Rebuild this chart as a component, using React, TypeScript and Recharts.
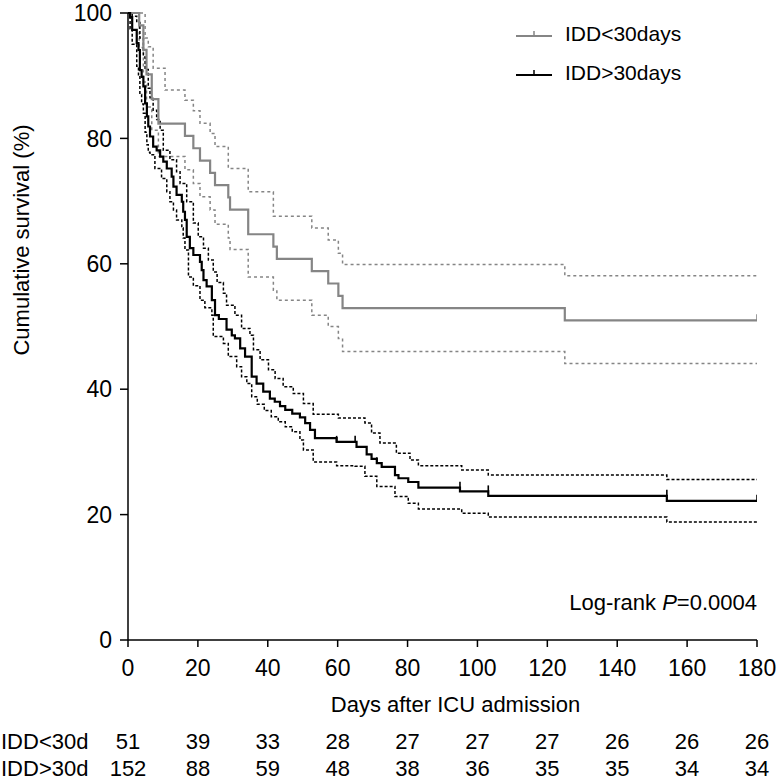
import React from 'react';
import { ComposedChart, Line, Scatter, XAxis, YAxis, Legend } from 'recharts';

// axis ticks
const dayTicks = [0, 20, 40, 60, 80, 100, 120, 140, 160, 180];
const pctTicks = [0, 20, 40, 60, 80, 100];

// numbers at risk (one per day tick)
const riskShortLabel = 'IDD<30d';
const riskLongLabel = 'IDD>30d';
const riskShort = [51, 39, 33, 28, 27, 27, 27, 26, 26, 26];
const riskLong = [152, 88, 59, 48, 38, 36, 35, 35, 34, 34];

// IDD<30days: [day, survival %]
const shortKM = [
  [0, 100], [3.2, 98.04], [4.4, 94.12], [5.3, 90.2], [6.8, 86.27], [8.7, 82.35], [16.3, 80.39],
  [18.7, 78.43], [20.6, 76.47], [23.5, 74.51], [24.9, 72.55], [28.7, 70.59], [29.2, 68.63],
  [34.4, 64.71], [41.6, 62.75], [42.6, 60.78], [52.6, 58.82], [57.3, 56.86], [60.2, 54.9],
  [61.4, 52.94], [125, 50.98], [180, 50.98],
];
const shortUpper = [
  [0, 100], [4.9, 96.0], [5.8, 94.6], [7.2, 91.2], [10.6, 87.7], [16.3, 86.1], [18.7, 84.4],
  [20.6, 82.4], [23.5, 80.8], [24.9, 78.7], [28.7, 75.2], [34.4, 71.5], [41.6, 67.6],
  [52.6, 65.7], [57.3, 63.8], [60.2, 61.7], [61.4, 59.9], [125, 58.1], [180, 58.1],
];
const shortLower = [
  [0, 100], [3.2, 94.5], [4.4, 89.0], [5.3, 85.0], [6.8, 81.3], [8.7, 77.1], [16.3, 75.0],
  [18.7, 72.8], [20.6, 70.7], [23.5, 68.6], [24.9, 66.3], [28.7, 64.1], [29.2, 62.3],
  [34.4, 57.9], [41.6, 55.8], [42.6, 54.2], [52.6, 51.8], [57.3, 50.0], [60.2, 48.1],
  [61.4, 46.0], [125, 44.1], [180, 44.1],
];
const shortCensor = [[180, 50.98]];

// IDD>30days: [day, survival %]
const longKM = [
  [0, 100], [0.6, 99.34], [1.2, 97.3], [2.5, 95.2], [3, 94.1], [3.4, 90.9], [3.9, 89.8],
  [4.4, 88.3], [4.9, 85.6], [5.4, 83.5], [5.8, 81.9], [6.3, 80.3], [7.2, 78.7], [8.2, 78.1],
  [9.2, 77.1], [10.1, 76.3], [11.1, 75.2], [12.5, 73.9], [13, 72.3], [13.9, 71.0], [15.4, 69.9],
  [15.8, 68.3], [16.3, 67.0], [16.8, 64.3], [17.7, 62.5], [18.7, 61.4], [20.6, 60.3],
  [21.1, 59.0], [21.6, 57.4], [22.5, 56.4], [24, 54.2], [24.9, 51.8], [26, 51.2], [28.2, 49.5],
  [29.7, 48.6], [30.6, 48.1], [32.1, 46.5], [33.5, 45.2], [35.4, 42.0], [36.8, 40.9],
  [38.7, 39.6], [40.6, 38.5], [42, 38.0], [43.5, 37.3], [45, 36.7], [47, 36.1], [49.2, 35.5],
  [50.7, 34.6], [52.1, 33.5], [53.5, 32.2], [59.7, 31.6], [65.4, 30.8], [68.3, 29.6],
  [69.7, 28.9], [71.2, 28.2], [72.6, 27.6], [76.4, 26.3], [77.4, 25.8], [80.2, 25.2],
  [83.1, 24.3], [95, 23.7], [103.1, 23.0], [154.2, 22.2], [180, 22.2],
];
const longUpper = [
  [0, 100], [1.2, 99.5], [2.5, 98.5], [3.4, 96.0], [4.4, 93.0], [4.9, 91.0], [5.8, 88.0],
  [6.3, 86.5], [7.2, 84.5], [8.2, 83.0], [9.2, 81.3], [10.1, 78.1], [12, 76.6], [13.9, 74.7],
  [14.9, 72.8], [16.8, 69.9], [18.7, 66.5], [20.1, 64.3], [21.6, 62.5], [23, 60.6],
  [24.4, 58.7], [25.5, 57.0], [27.3, 55.3], [28.2, 53.4], [30.6, 51.8], [32.5, 49.7],
  [34.9, 48.6], [35.9, 46.3], [37.8, 44.7], [40.2, 43.1], [42.1, 41.7], [44.4, 40.4],
  [47.3, 39.3], [50.2, 37.7], [53, 36.0], [60.2, 35.4], [67.8, 34.6], [69.7, 33.0],
  [72.1, 31.4], [76.8, 29.8], [80.7, 28.7], [83.1, 27.8], [95.5, 27.1], [103.1, 26.3],
  [154.2, 25.6], [180, 25.6],
];
const longLower = [
  [0, 100], [0.6, 97.5], [1.2, 95.0], [2.5, 91.5], [3, 90.0], [3.4, 87.0], [3.9, 85.5],
  [4.4, 84.0], [4.9, 81.0], [5.4, 79.0], [5.8, 77.8], [6.3, 77.4], [7.7, 75.2], [9.6, 73.6],
  [11.1, 71.5], [12, 69.9], [13, 68.6], [13.9, 67.0], [15.4, 65.7], [15.8, 64.1], [16.3, 62.2],
  [17.3, 57.9], [18.7, 56.5], [20.6, 54.2], [22, 53.0], [24, 51.8], [24.4, 48.4], [27.3, 47.3],
  [28.7, 45.2], [31.1, 43.6], [32.5, 42.0], [34, 40.9], [35.4, 38.8], [37, 37.6], [39, 36.6],
  [41, 35.6], [43, 34.8], [45, 34.0], [47, 33.2], [49.2, 31.9], [50.2, 30.3], [53, 28.4],
  [59.7, 27.8], [65, 27.7], [67.8, 26.1], [71.2, 24.5], [76.4, 22.9], [80.2, 21.8],
  [83.1, 20.9], [95.5, 20.2], [103.1, 19.6], [154.2, 18.8], [180, 18.8],
];
const longCensor = [
  [59.7, 31.6], [65, 31.6], [71.2, 28.2], [95, 24.3], [103.1, 23.7], [154.2, 23.0], [180, 22.2],
];

const toRows = (pairs: number[][]) => pairs.map(([t, s]) => ({ t, s }));

const GREY = '#858585';
const FONT = '"Liberation Sans", Arial, sans-serif';

const CensorMark = (color: string) => (props: any) => {
  const { cx, cy } = props;
  if (cx == null || cy == null) return null;
  return <line x1={cx} x2={cx} y1={cy} y2={cy - 6} stroke={color} strokeWidth={1.6} />;
};

// x tick label plus the at-risk numbers under it
const DayTick = (props: any) => {
  const { x, y, payload, index } = props;
  return (
    <g fontFamily={FONT} fill="#000" textAnchor="middle">
      <text x={x} y={y + 29} fontSize={23} fill="#000">{payload.value}</text>
      <text x={x} y={y + 102} fontSize={22} fill="#000">{riskShort[index]}</text>
      <text x={x} y={y + 129} fontSize={22} fill="#000">{riskLong[index]}</text>
    </g>
  );
};

const DayTitle = (props: any) => {
  const { viewBox } = props;
  const { x, y, width } = viewBox;
  return (
    <g fontFamily={FONT} fontSize={22} fill="#000">
      <text x={x + width / 2 + 13} y={y + 72} textAnchor="middle">Days after ICU admission</text>
      <text x={1} y={y + 109}>{riskShortLabel}</text>
      <text x={1} y={y + 136}>{riskLongLabel}</text>
    </g>
  );
};

const SurvTitle = () => (
  <text
    x={29}
    y={240}
    transform="rotate(-90, 29, 240)"
    textAnchor="middle"
    fontFamily={FONT}
    fontSize={22}
    fill="#000"
  >
    Cumulative survival (%)
  </text>
);

const legendItems = [
  { name: 'IDD<30days', color: GREY },
  { name: 'IDD>30days', color: '#000' },
];

const KMLegend = () => (
  <div style={{ fontFamily: FONT, fontSize: 21, color: '#000' }}>
    {legendItems.map((it) => (
      <div key={it.name} style={{ display: 'flex', alignItems: 'center', height: 39 }}>
        <svg width={51} height={20}>
          <line x1={2} x2={38} y1={12} y2={12} stroke={it.color} strokeWidth={2} />
          <line x1={20} x2={20} y1={12} y2={7} stroke={it.color} strokeWidth={1.5} />
        </svg>
        <span>{it.name}</span>
      </div>
    ))}
  </div>
);

export default function App() {
  return (
    <div style={{ position: 'absolute', left: 0, top: 0, width: 777, height: 782, background: '#fff' }}>
      <ComposedChart
        width={777}
        height={782}
        margin={{ top: 13, right: 20, left: 0, bottom: 62 }}
      >
        <XAxis
          dataKey="t"
          type="number"
          domain={[0, 180]}
          ticks={dayTicks}
          interval={0}
          allowDataOverflow
          height={80}
          tickSize={7}
          tickMargin={0}
          stroke="#000"
          strokeWidth={1.5}
          tick={<DayTick />}
          label={<DayTitle />}
        />
        <YAxis
          dataKey="s"
          type="number"
          domain={[0, 100]}
          ticks={pctTicks}
          interval={0}
          width={128}
          tickSize={8}
          tickMargin={8}
          stroke="#000"
          strokeWidth={1.5}
          tick={{ fill: '#000', fontSize: 23, fontFamily: FONT }}
          label={<SurvTitle />}
        />
        <Legend
          layout="horizontal"
          verticalAlign="middle"
          align="center"
          wrapperStyle={{ top: 14, left: 514, width: 200, height: 80 }}
          content={<KMLegend />}
        />

        <Line data={toRows(shortUpper)} dataKey="s" type="stepAfter" stroke={GREY} strokeWidth={1.5} strokeDasharray="3 3" dot={false} isAnimationActive={false} legendType="none" />
        <Line data={toRows(shortLower)} dataKey="s" type="stepAfter" stroke={GREY} strokeWidth={1.5} strokeDasharray="3 3" dot={false} isAnimationActive={false} legendType="none" />
        <Line data={toRows(longUpper)} dataKey="s" type="stepAfter" stroke="#000" strokeWidth={1.5} strokeDasharray="3 2" dot={false} isAnimationActive={false} legendType="none" />
        <Line data={toRows(longLower)} dataKey="s" type="stepAfter" stroke="#000" strokeWidth={1.5} strokeDasharray="3 2" dot={false} isAnimationActive={false} legendType="none" />
        <Line data={toRows(shortKM)} dataKey="s" type="stepAfter" stroke={GREY} strokeWidth={2.2} dot={false} isAnimationActive={false} name="IDD<30days" />
        <Line data={toRows(longKM)} dataKey="s" type="stepAfter" stroke="#000" strokeWidth={2.2} dot={false} isAnimationActive={false} name="IDD>30days" />
        <Scatter data={toRows(shortCensor)} dataKey="s" shape={CensorMark(GREY)} isAnimationActive={false} legendType="none" />
        <Scatter data={toRows(longCensor)} dataKey="s" shape={CensorMark('#000')} isAnimationActive={false} legendType="none" />
      </ComposedChart>
      <div
        style={{
          position: 'absolute',
          right: 20,
          top: 590,
          fontFamily: FONT,
          fontSize: 22,
          color: '#000',
          whiteSpace: 'nowrap',
        }}
      >
        Log-rank <i>P</i>=0.0004
      </div>
    </div>
  );
}
